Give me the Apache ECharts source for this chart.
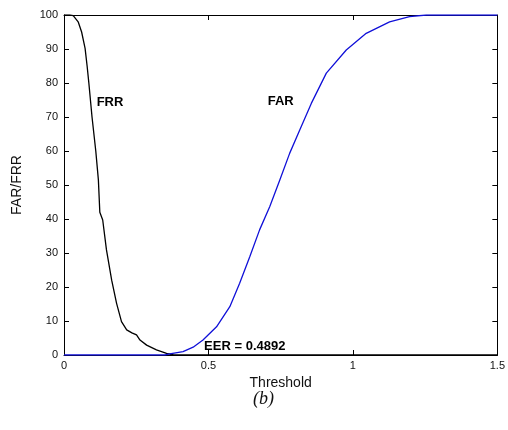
<!DOCTYPE html>
<html>
<head>
<meta charset="utf-8">
<script src="https://cdn.jsdelivr.net/npm/echarts@6/dist/echarts.min.js"></script>
<style>
  html, body { margin: 0; padding: 0; background: #fff; }
  #chart { width: 508px; height: 430px; }
</style>
</head>
<body>
<div id="chart"></div>
<script>
// False rejection rate curve (threshold, percent)
const frrT = [0, 0.02, 0.032, 0.049, 0.061, 0.073, 0.08, 0.086, 0.097, 0.11, 0.119, 0.124, 0.134, 0.147, 0.165, 0.182, 0.199, 0.217, 0.235, 0.251, 0.263, 0.286, 0.32, 0.355, 0.38, 0.5, 1.0, 1.5];
const frrV = [100, 100, 99.8, 98, 95, 90.2, 85, 80, 70, 60, 51.5, 42, 39.7, 30.9, 22, 15.2, 9.8, 7.4, 6.5, 5.9, 4.4, 2.9, 1.5, 0.5, 0, 0, 0, 0];

// False acceptance rate curve (threshold, percent)
const farT = [0, 0.35, 0.366, 0.412, 0.447, 0.481, 0.528, 0.574, 0.608, 0.643, 0.677, 0.712, 0.747, 0.781, 0.816, 0.856, 0.908, 0.977, 1.046, 1.127, 1.196, 1.254, 1.5];
const farV = [0, 0, 0.3, 1, 2.3, 4.4, 8.3, 14.2, 21.1, 28.9, 36.8, 43.6, 51.5, 59.3, 66.2, 74, 82.9, 89.7, 94.6, 98, 99.5, 100, 100];

// Axis ranges and tick steps
const xRange = [0, 1.5];
const xStep = 0.5;
const yRange = [0, 100];
const yStep = 10;

// Curve annotations: [text, threshold, percent]
const notes = [
  ['FRR', 0.113, 74.4],
  ['FAR', 0.705, 74.7],
  ['EER = 0.4892', 0.485, 2.4]
];

const zip = (xs, ys) => xs.map((x, i) => [x, ys[i]]);

const axisCommon = () => ({
  axisLine: { show: true, onZero: false, lineStyle: { color: '#000', width: 1 } },
  axisTick: { show: true, inside: true, length: 5, lineStyle: { color: '#000' } },
  splitLine: { show: false }
});

const chart = echarts.init(document.getElementById('chart'), null, { renderer: 'canvas' });
chart.setOption({
  backgroundColor: '#fff',
  animation: false,
  grid: { left: 64, right: 10, top: 15, bottom: 75 },
  xAxis: [
    Object.assign({
      type: 'value', position: 'bottom', min: xRange[0], max: xRange[1], interval: xStep,
      name: 'Threshold', nameLocation: 'middle', nameGap: 20,
      nameTextStyle: { fontFamily: 'Liberation Sans', fontSize: 14, color: '#111' },
      axisLabel: { fontFamily: 'Liberation Sans', fontSize: 11, color: '#111', margin: 5 }
    }, axisCommon()),
    Object.assign({
      type: 'value', position: 'top', min: xRange[0], max: xRange[1], interval: xStep,
      axisLabel: { show: false }
    }, axisCommon())
  ],
  yAxis: [
    Object.assign({
      type: 'value', position: 'left', min: yRange[0], max: yRange[1], interval: yStep,
      name: 'FAR/FRR', nameLocation: 'middle', nameGap: 40, nameRotate: 90,
      nameTextStyle: { fontFamily: 'Liberation Sans', fontSize: 14, color: '#111' },
      axisLabel: { fontFamily: 'Liberation Sans', fontSize: 11, color: '#111', margin: 6 }
    }, axisCommon()),
    Object.assign({
      type: 'value', position: 'right', min: yRange[0], max: yRange[1], interval: yStep,
      axisLabel: { show: false }
    }, axisCommon())
  ],
  series: [
    {
      name: 'FRR', type: 'line', data: zip(frrT, frrV),
      showSymbol: false, symbol: 'none',
      lineStyle: { color: '#000', width: 1.3 }, z: 3
    },
    {
      name: 'FAR', type: 'line', data: zip(farT, farV),
      showSymbol: false, symbol: 'none',
      lineStyle: { color: '#1010d8', width: 1.3 }, z: 4
    },
    {
      name: 'notes', type: 'scatter', symbolSize: 0,
      itemStyle: { opacity: 1 },
      data: notes.map(n => ({ value: [n[1], n[2]], name: n[0] })),
      label: {
        show: true, position: 'inside', align: 'left', verticalAlign: 'middle',
        formatter: p => p.name, opacity: 1,
        fontFamily: 'Liberation Sans', fontWeight: 'bold', fontSize: 13, color: '#000'
      },
      emphasis: { disabled: true },
      z: 5
    }
  ],
  graphic: [
    {
      type: 'text', left: 253, top: 390,
      style: { text: '(b)', font: 'italic 18px "Liberation Serif"', fill: '#111' }
    }
  ]
});
</script>
</body>
</html>
